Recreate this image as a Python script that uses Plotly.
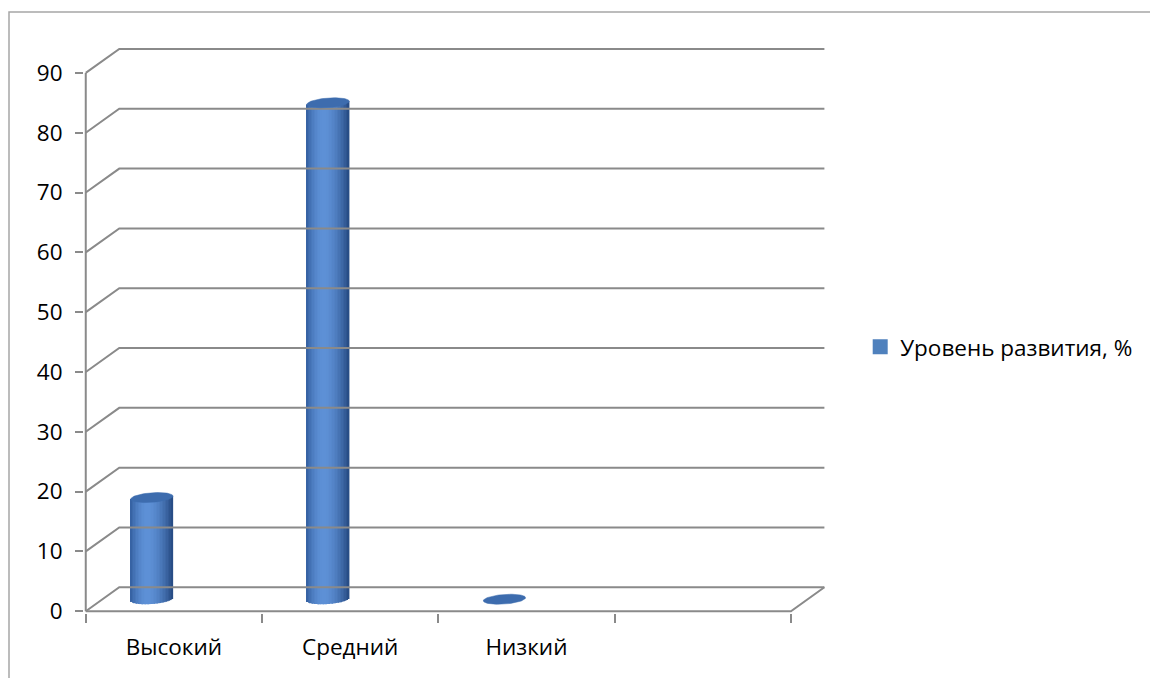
import numpy as np
import plotly.graph_objects as go

# Chart data
categories = ["Высокий", "Средний", "Низкий"]
values = [17, 83, 0]
series_name = "Уровень развития, %"
y_tick_values = [0, 10, 20, 30, 40, 50, 60, 70, 80, 90]
n_slots = 4  # category slots along the floor (last one empty)

# Oblique 3-D look: depth offset of the back wall, in axis units
depth_dx = 0.19
depth_dy = 4.0
cyl_offset = 0.375      # cylinder centre within its slot
cyl_rx = 0.12           # cylinder half-width
cyl_ry = 0.8            # half-height of the elliptical caps
cyl_tilt = 0.25         # slight tilt of the caps
base_level = depth_dy / 2  # cylinders stand at mid-depth

GRID = "#8a8a8a"
FONT = "Open Sans"

fig = go.Figure()

# back wall gridlines with their diagonal connectors to the front axis
gx, gy = [], []
for v in y_tick_values:
    gx += [0, depth_dx, n_slots + depth_dx, None]
    gy += [v, v + depth_dy, v + depth_dy, None]
# floor outline (front edge + right-hand diagonal)
gx += [0, n_slots, n_slots + depth_dx, None]
gy += [0, 0, depth_dy, None]
# front value axis line
gx += [0, 0]
gy += [y_tick_values[0], y_tick_values[-1]]
fig.add_trace(go.Scatter(x=gx, y=gy, mode="lines", line=dict(color=GRID, width=2),
                         hoverinfo="skip", showlegend=False))

# cylinder bodies: narrow vertical stripes give the shaded round look
centers = np.arange(len(categories)) + cyl_offset
vals = np.array(values, dtype=float)
N = 28
left_edge = np.array([52, 96, 160])
right_edge = np.array([38, 74, 130])
peak = np.array([94, 145, 215])
for k in range(N):
    u = -1 + (2 * k + 1) / N
    if u < -0.2:
        d = (-0.2 - u) / 0.8
        edge = left_edge
    else:
        d = (u + 0.2) / 1.2
        edge = right_edge
    f = max(0.0, 1 - d ** 1.8)
    c = edge + f * (peak - edge)
    color = "rgb(%d,%d,%d)" % tuple(c.astype(int))
    s = np.sqrt(max(0.0, 1 - u * u))
    bases = base_level + cyl_tilt * u - cyl_ry * s
    heights = np.where(vals > 0, vals + cyl_ry * s, 0)
    fig.add_trace(go.Bar(x=centers + u * cyl_rx, y=heights, base=bases,
                         width=2 * cyl_rx / N * 1.15, marker=dict(color=color, line=dict(width=0)),
                         hoverinfo="skip", showlegend=False))

# elliptical top caps
t = np.linspace(0, 2 * np.pi, 80)
for xc, v in zip(centers, vals):
    fig.add_trace(go.Scatter(
        x=xc + cyl_rx * np.cos(t),
        y=v + base_level + cyl_ry * np.sin(t) + cyl_tilt * np.cos(t),
        mode="lines", fill="toself", fillcolor="#3d6cae", line=dict(width=0.5, color="#3d6cae"),
        hoverinfo="skip", showlegend=False))

# legend entry
fig.add_trace(go.Scatter(x=[None], y=[None], name=series_name, mode="markers",
                         marker=dict(symbol="square", size=15, color="#4f81bd"),
                         showlegend=True))

fig.update_layout(
    width=1150, height=678,
    margin=dict(l=84, r=290, t=37, b=65),
    paper_bgcolor="white", plot_bgcolor="white",
    barmode="overlay",
    font=dict(family=FONT, size=22.5, color="#000000"),
    showlegend=True,
    legend=dict(xref="container", yref="container", x=0.748, y=0.488,
                xanchor="left", yanchor="middle", font=dict(size=22.5),
                bgcolor="rgba(0,0,0,0)"),
    xaxis=dict(range=[-0.01, 4.325], showgrid=False, zeroline=False, showline=False,
               tickvals=[i + 0.5 for i in range(len(categories))], ticktext=categories,
               ticks="", ticklabelstandoff=18,
               minor=dict(tickvals=list(range(n_slots + 1)), ticks="outside", ticklen=9,
                          tickcolor=GRID, tickwidth=2, showgrid=False)),
    yaxis=dict(range=[-0.3, 96], showgrid=False, zeroline=False, showline=False,
               tickvals=y_tick_values, ticks="outside", ticklen=8, tickcolor=GRID,
               tickwidth=2, ticklabelstandoff=8),
    shapes=[dict(type="rect", xref="paper", yref="paper", xsizemode="pixel", ysizemode="pixel",
                 xanchor=0, yanchor=1, x0=-75, x1=2000, y0=25, y1=-2000,
                 line=dict(color="#a6a6a6", width=1.5), fillcolor="rgba(0,0,0,0)", layer="below")],
)

fig.write_html("out.html")
